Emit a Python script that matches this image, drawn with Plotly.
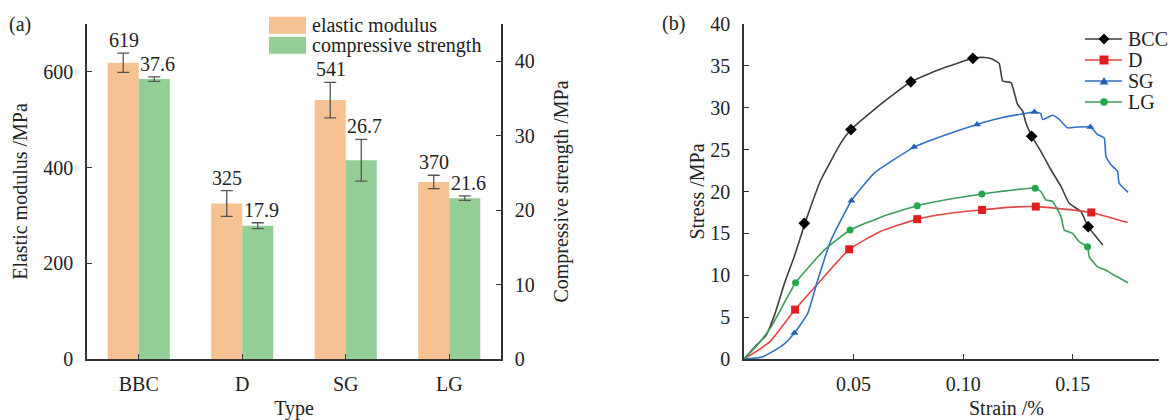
import plotly.graph_objects as go

# ---------------- data: panel (a) ----------------
categories = ["BBC", "D", "SG", "LG"]
elastic_modulus = [619, 325, 541, 370]
elastic_modulus_err = [20, 27, 37, 14]
compressive_strength = [37.6, 17.9, 26.7, 21.6]
compressive_strength_err = [0.3, 0.4, 2.8, 0.3]
bar_names = ["elastic modulus", "compressive strength"]
left_ticks = [0, 200, 400, 600]
right_ticks = [0, 10, 20, 30, 40]

# ---------------- data: panel (b) ----------------
bcc_strain = [0, 0.0055, 0.0100, 0.0140, 0.0184, 0.0229, 0.0278, 0.0351, 0.0442, 0.0488,
              0.0613, 0.0761, 0.0894, 0.1044, 0.1097, 0.1134, 0.1164, 0.1180, 0.1218,
              0.1233, 0.1248, 0.1271, 0.1286, 0.1312, 0.1354, 0.1400, 0.1446, 0.1483,
              0.1537, 0.1570, 0.1637]
bcc_stress = [0, 1.6, 2.8, 5.3, 9.0, 12.2, 16.2, 21.4, 25.8, 27.4,
              30.2, 33.1, 34.6, 35.9, 36.0, 35.8, 35.3, 33.2, 33.0,
              31.8, 30.4, 29.6, 28.2, 26.6, 24.8, 22.6, 20.6, 18.6,
              17.6, 15.8, 13.6]
bcc_mark_strain = [0.0275, 0.0488, 0.0761, 0.1044, 0.1312, 0.1570]
bcc_mark_stress = [16.2, 27.4, 33.1, 35.9, 26.6, 15.8]

d_strain = [0, 0.0062, 0.0123, 0.0233, 0.0351, 0.0480, 0.0620, 0.0790, 0.0940, 0.1086,
            0.1202, 0.1331, 0.1461, 0.1584, 0.1750]
d_stress = [0, 1.0, 2.2, 5.9, 9.4, 13.1, 15.2, 16.7, 17.4, 17.8,
            18.1, 18.2, 17.9, 17.5, 16.3]
d_mark_strain = [0.0233, 0.0480, 0.0790, 0.1086, 0.1331, 0.1584]
d_mark_stress = [5.9, 13.1, 16.7, 17.8, 18.2, 17.5]

sg_strain = [0, 0.0078, 0.0138, 0.0184, 0.0230, 0.0290, 0.0336, 0.0397, 0.0490, 0.0594,
             0.0776, 0.0925, 0.1063, 0.1175, 0.1300, 0.1325, 0.1354, 0.1362, 0.1408,
             0.1438, 0.1476, 0.1522, 0.1580, 0.1613, 0.1643, 0.1651, 0.1674, 0.1704,
             0.1711, 0.1752]
sg_stress = [0, 0.2, 1.0, 1.8, 3.1, 5.4, 9.4, 14.2, 18.9, 22.2,
             25.3, 26.8, 28.0, 28.8, 29.4, 29.5, 29.3, 28.6, 29.1,
             28.6, 27.6, 27.7, 27.7, 26.8, 26.4, 24.2, 23.2, 22.4,
             21.0, 19.9]
sg_mark_strain = [0.0230, 0.0490, 0.0776, 0.1063, 0.1325, 0.1580]
sg_mark_stress = [3.1, 18.9, 25.3, 28.0, 29.5, 27.7]

lg_strain = [0, 0.0055, 0.0123, 0.0235, 0.0366, 0.0484, 0.0630, 0.0790, 0.0940, 0.1085,
             0.1200, 0.1328, 0.1354, 0.1377, 0.1408, 0.1446, 0.1461, 0.1499, 0.1529,
             0.1567, 0.1575, 0.1613, 0.1651, 0.1689, 0.1752]
lg_stress = [0, 1.5, 3.8, 9.1, 13.0, 15.4, 17.0, 18.3, 19.1, 19.7,
             20.1, 20.4, 20.0, 19.0, 18.8, 17.0, 15.4, 15.0, 14.0,
             13.4, 12.2, 11.0, 10.6, 10.0, 9.1]
lg_mark_strain = [0.0235, 0.0484, 0.0790, 0.1085, 0.1328, 0.1567]
lg_mark_stress = [9.1, 15.4, 18.3, 19.7, 20.4, 13.4]

curve_names = ["BCC", "D", "SG", "LG"]
x_ticks_b = [0.05, 0.10, 0.15]
x_ticklabels_b = ["0.05", "0.10", "0.15"]
y_ticks_b = [0, 5, 10, 15, 20, 25, 30, 35, 40]

# ---------------- styling ----------------
FONT = "Liberation Serif"
FS = 20
TXT = "#222222"
AX = "#333333"
ORANGE = "#F6C291"
GREEN = "#93CE97"
ERR = "#555555"

W, H = 1172, 420
ML, MR, MT, MB = 87, 13, 24, 61
PW, PH = W - ML - MR, H - MT - MB


def fx(px):
    return (px - ML) / PW


def fy(py):
    return (H - MB - py) / PH


fig = go.Figure()

# bars
fig.add_trace(go.Bar(
    x=categories, y=elastic_modulus, name=bar_names[0],
    marker=dict(color=ORANGE, line=dict(width=0)),
    error_y=dict(type="data", array=elastic_modulus_err, color=ERR, thickness=1.3, width=6),
    offsetgroup="a", xaxis="x", yaxis="y", showlegend=False))
fig.add_trace(go.Bar(
    x=categories, y=compressive_strength, name=bar_names[1],
    marker=dict(color=GREEN, line=dict(width=0)),
    error_y=dict(type="data", array=compressive_strength_err, color=ERR, thickness=1.3, width=6),
    offsetgroup="b", xaxis="x", yaxis="y2", showlegend=False))

# curves
styles = [
    ("#3f3f3f", "#000000", "diamond", 9),
    ("#e04646", "#e01e1e", "square", 8),
    ("#2f72c4", "#1f5fb8", "triangle-up", 7),
    ("#3c9e5a", "#22a84a", "circle", 7),
]
curves = [
    (bcc_strain, bcc_stress, bcc_mark_strain, bcc_mark_stress),
    (d_strain, d_stress, d_mark_strain, d_mark_stress),
    (sg_strain, sg_stress, sg_mark_strain, sg_mark_stress),
    (lg_strain, lg_stress, lg_mark_strain, lg_mark_stress),
]
for name, (xs, ys, mx, my), (lc, mc, sym, ms) in zip(curve_names, curves, styles):
    fig.add_trace(go.Scatter(x=xs, y=ys, mode="lines", name=name,
                             line=dict(color=lc, width=1.6, shape="spline", smoothing=0.4),
                             xaxis="x2", yaxis="y3", showlegend=False))
    fig.add_trace(go.Scatter(x=mx, y=my, mode="markers", name=name,
                             marker=dict(color=mc, symbol=sym, size=ms, line=dict(width=0)),
                             xaxis="x2", yaxis="y3", showlegend=False))

axis_common = dict(showline=True, linecolor=AX, linewidth=1.5, ticks="inside", ticklen=5,
                   tickwidth=1.3, tickcolor=AX, showgrid=False, zeroline=False,
                   tickfont=dict(family=FONT, size=FS, color=TXT), automargin=False)

fig.update_layout(
    width=W, height=H,
    margin=dict(l=ML, r=MR, t=MT, b=MB),
    paper_bgcolor="white", plot_bgcolor="white",
    font=dict(family=FONT, size=FS, color=TXT),
    showlegend=False,
    barmode="group", bargap=0.4, bargroupgap=0,
    xaxis=dict(domain=[0, fx(501)], range=[-0.5, 3.5], anchor="y",
               title=dict(text="Type", font=dict(family=FONT, size=FS, color=TXT), standoff=8),
               ticklabelstandoff=6, **axis_common),
    yaxis=dict(range=[0, 700], tickvals=left_ticks, anchor="x",
               title=dict(text="Elastic modulus /MPa", font=dict(family=FONT, size=FS, color=TXT), standoff=10),
               ticklabelstandoff=8, **axis_common),
    yaxis2=dict(range=[0, 45], tickvals=right_ticks, overlaying="y", side="right", anchor="x",
                title=dict(text="Compressive strength /MPa", font=dict(family=FONT, size=FS, color=TXT), standoff=20),
                ticklabelstandoff=8, **axis_common),
    xaxis2=dict(domain=[fx(744), 1], range=[0, 0.1893], tickvals=x_ticks_b, ticktext=x_ticklabels_b,
                anchor="y3", ticklabelstandoff=6, **axis_common),
    yaxis3=dict(domain=[0, 1], range=[0, 40], tickvals=y_ticks_b, anchor="x2",
                title=dict(text="Stress /MPa", font=dict(family=FONT, size=FS, color=TXT), standoff=0),
                ticklabelstandoff=8, **axis_common),
)

annotations = []
shapes = []
# value labels above error bars
for c, v, e in zip(categories, elastic_modulus, elastic_modulus_err):
    annotations.append(dict(x=c, y=v + e, xref="x", yref="y", text=str(v), showarrow=False,
                            xshift=-15, yanchor="bottom", yshift=0,
                            font=dict(family=FONT, size=FS, color=TXT)))
for c, v, e in zip(categories, compressive_strength, compressive_strength_err):
    annotations.append(dict(x=c, y=v + e, xref="x", yref="y2", text=f"{v:.1f}", showarrow=False,
                            xshift=19, yanchor="bottom", yshift=0,
                            font=dict(family=FONT, size=FS, color=TXT)))

# legend for panel (a): large colour swatches
for i, (name, col) in enumerate(zip(bar_names, [ORANGE, GREEN])):
    top = 16.7 + i * 20
    shapes.append(dict(type="rect", xref="paper", yref="paper",
                       x0=fx(269), x1=fx(306), y0=fy(top + 17), y1=fy(top),
                       fillcolor=col, line=dict(width=0), layer="above"))
    annotations.append(dict(x=fx(310), y=fy(top + 8.5), xref="paper", yref="paper", text=name,
                            showarrow=False, xanchor="left", yanchor="middle",
                            font=dict(family=FONT, size=FS, color=TXT)))

# legend for panel (b): line sample + marker + name
marker_paths = {
    "diamond": "M-5.5,0 L0,5.5 L5.5,0 L0,-5.5 Z",
    "square": "M-4.5,-4.5 L4.5,-4.5 L4.5,4.5 L-4.5,4.5 Z",
    "triangle-up": "M-4.5,-3.5 L4.5,-3.5 L0,4 Z",
}
for i, (name, (lc, mc, sym, ms)) in enumerate(zip(curve_names, styles)):
    yc = 39 + 21 * i
    shapes.append(dict(type="line", xref="paper", yref="paper",
                       x0=fx(1085), x1=fx(1122), y0=fy(yc), y1=fy(yc),
                       line=dict(color=lc, width=1.6), layer="above"))
    if sym == "circle":
        shapes.append(dict(type="circle", xref="paper", yref="paper",
                           xsizemode="pixel", ysizemode="pixel",
                           xanchor=fx(1104), yanchor=fy(yc),
                           x0=-3.8, x1=3.8, y0=-3.8, y1=3.8,
                           fillcolor=mc, line=dict(width=0), layer="above"))
    else:
        shapes.append(dict(type="path", xref="paper", yref="paper",
                           xsizemode="pixel", ysizemode="pixel",
                           xanchor=fx(1104), yanchor=fy(yc),
                           path=marker_paths[sym], fillcolor=mc, line=dict(width=0), layer="above"))
    annotations.append(dict(x=fx(1126), y=fy(yc), xref="paper", yref="paper", text=name,
                            showarrow=False, xanchor="left", yanchor="middle",
                            font=dict(family=FONT, size=FS, color=TXT)))

# panel labels and x title of (b)
annotations.append(dict(x=fx(20), y=fy(24), xref="paper", yref="paper", text="(a)", showarrow=False,
                        xanchor="center", yanchor="middle", font=dict(family=FONT, size=FS, color=TXT)))
annotations.append(dict(x=fx(673), y=fy(23), xref="paper", yref="paper", text="(b)", showarrow=False,
                        xanchor="center", yanchor="middle", font=dict(family=FONT, size=FS, color=TXT)))
annotations.append(dict(x=fx(1006), y=fy(408), xref="paper", yref="paper", text="Strain /%", showarrow=False,
                        xanchor="center", yanchor="middle", font=dict(family=FONT, size=FS, color=TXT)))

fig.update_layout(annotations=annotations, shapes=shapes)

fig.write_html("out.html", config={"displayModeBar": False},
               post_script="document.body.style.margin='0px';")
